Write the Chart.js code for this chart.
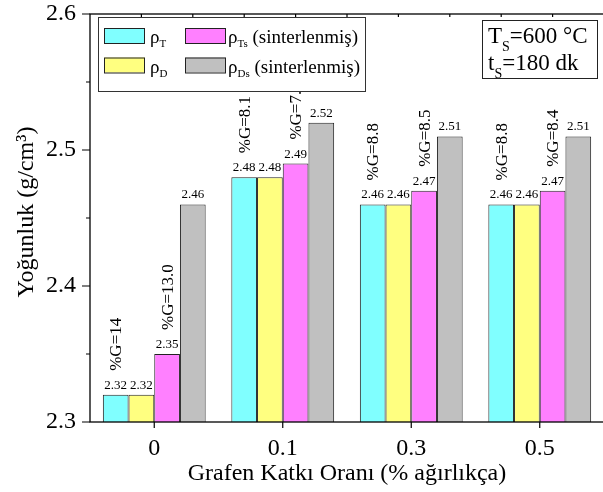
<!DOCTYPE html>
<html><head><meta charset="utf-8">
<script src="https://cdn.jsdelivr.net/npm/chart.js@4.4.1/dist/chart.umd.min.js"></script>
<style>html,body{margin:0;padding:0;overflow:hidden;background:#fff;width:603px;height:492px}canvas{display:block}</style>
</head><body><canvas id="c" width="608" height="492"></canvas>
<script>
const categories = ['0', '0.1', '0.3', '0.5'];
const rhoT  = [2.32, 2.48, 2.46, 2.46];
const rhoD  = [2.32, 2.48, 2.46, 2.46];
const rhoTs = [2.35, 2.49, 2.47, 2.47];
const rhoDs = [2.46, 2.52, 2.51, 2.51];
const porosityT  = ['14', '8.1', '8.8', '8.8'];
const porosityTs = ['13.0', '7.8', '8.5', '8.4'];
const yTicks = [2.3, 2.4, 2.5, 2.6];
const seriesMain = ['ρ', 'ρ', 'ρ', 'ρ'];
const seriesSub  = ['T', 'D', 'Ts', 'Ds'];
const seriesTail = ['', '', ' (sinterlenmiş)', ' (sinterlenmiş)'];
const colors = ['#80FFFF', '#FFFF80', '#FF80FF', '#C0C0C0'];
const xTitle = 'Grafen Katkı Oranı (% ağırlıkça)';
const yTitle = 'Yoğunluk (g/cm³)';

const SERIF = "'Liberation Serif', 'Times New Roman', serif";
Chart.defaults.font.family = SERIF;
Chart.defaults.color = '#000';

const seriesData = [rhoT, rhoD, rhoTs, rhoDs];
const datasets = seriesData.map((d, i) => ({
  label: seriesMain[i] + seriesSub[i] + seriesTail[i],
  data: d,
  backgroundColor: colors[i],
  borderColor: '#222',
  borderWidth: 1,
  borderSkipped: false,
  categoryPercentage: 0.8,
  barPercentage: 1.0
}));

const decor = {
  id: 'decor',
  afterDatasetsDraw(chart) {
    const ctx = chart.ctx;
    ctx.save();
    ctx.fillStyle = '#000';
    ctx.textAlign = 'center';
    ctx.textBaseline = 'alphabetic';
    ctx.font = '13px ' + SERIF;
    chart.data.datasets.forEach((ds, i) => {
      const meta = chart.getDatasetMeta(i);
      meta.data.forEach((el, j) => {
        ctx.fillText(ds.data[j].toFixed(2), el.x, el.y - 6);
      });
    });
    const rot = [[0, porosityT], [2, porosityTs]];
    ctx.font = '17px ' + SERIF;
    rot.forEach(([di, arr]) => {
      const meta = chart.getDatasetMeta(di);
      meta.data.forEach((el, j) => {
        ctx.save();
        ctx.translate(el.x + 1, el.y - 24);
        ctx.rotate(-Math.PI / 2);
        ctx.textAlign = 'left';
        ctx.textBaseline = 'middle';
        ctx.fillText('%G=' + arr[j], 0, 0);
        ctx.restore();
      });
    });
    ctx.restore();
  },
  afterDraw(chart) {
    const ctx = chart.ctx;
    const ca = chart.chartArea;
    const xs = chart.scales.x, ys = chart.scales.y;
    ctx.save();
    ctx.strokeStyle = '#000';
    ctx.lineWidth = 1.3;
    ctx.strokeRect(ca.left, ca.top, ca.right - ca.left, ca.bottom - ca.top);
    ctx.lineWidth = 1.2;
    ctx.beginPath();
    yTicks.forEach((v, k) => {
      const y = ys.getPixelForValue(v);
      ctx.moveTo(ca.left - 8, y); ctx.lineTo(ca.left, y);
      if (k < yTicks.length - 1) {
        const ym = ys.getPixelForValue((v + yTicks[k + 1]) / 2);
        ctx.moveTo(ca.left - 4, ym); ctx.lineTo(ca.left, ym);
      }
    });
    categories.forEach((c, j) => {
      const x = xs.getPixelForValue(j);
      ctx.moveTo(x, ca.bottom); ctx.lineTo(x, ca.bottom + 6);
    });
    for (let k = 1; k < 10; k++) {
      const x = ca.left + k * (ca.right - ca.left) / 10;
      ctx.moveTo(x, ca.top); ctx.lineTo(x, ca.top + 3);
    }
    ctx.stroke();

    ctx.save();
    ctx.translate(27, 212);
    ctx.rotate(-Math.PI / 2);
    ctx.fillStyle = '#000';
    ctx.textAlign = 'center';
    ctx.textBaseline = 'middle';
    ctx.font = '24px ' + SERIF;
    ctx.fillText(yTitle, 0, 0);
    ctx.restore();

    ctx.lineWidth = 1;
    ctx.strokeStyle = '#333';
    ctx.fillStyle = '#fff';
    ctx.fillRect(98, 17, 267, 74);
    ctx.strokeRect(98.5, 17.5, 267, 74);
    const slots = [[104, 150, 28], [104, 150, 57.5], [185, 228, 28], [185, 228, 57.5]];
    slots.forEach(([sx, tx, sy], i) => {
      ctx.fillStyle = colors[i];
      ctx.fillRect(sx, sy, 41, 15);
      ctx.strokeStyle = '#222';
      ctx.strokeRect(sx + 0.5, sy + 0.5, 40, 15);
      ctx.fillStyle = '#000';
      ctx.textAlign = 'left';
      ctx.textBaseline = 'alphabetic';
      const base = sy + 15;
      ctx.font = '19px ' + SERIF;
      ctx.fillText(seriesMain[i], tx, base);
      let x = tx + ctx.measureText(seriesMain[i]).width;
      ctx.font = '11px ' + SERIF;
      ctx.fillText(seriesSub[i], x, base + 4);
      x += ctx.measureText(seriesSub[i]).width;
      ctx.font = '19px ' + SERIF;
      ctx.fillText(seriesTail[i], x, base);
    });

    ctx.fillStyle = '#fff';
    ctx.fillRect(482, 20, 115, 58);
    ctx.strokeStyle = '#222';
    ctx.strokeRect(482.5, 20.5, 115, 58);
    ctx.fillStyle = '#000';
    const lines = [['T', 'S', '=600 °C', 43], ['t', 'S', '=180 dk', 70]];
    lines.forEach(([a, s, b, base]) => {
      ctx.font = '23px ' + SERIF;
      ctx.fillText(a, 488, base);
      let x = 488 + ctx.measureText(a).width;
      ctx.font = '14px ' + SERIF;
      ctx.fillText(s, x, base + 8);
      x += ctx.measureText(s).width;
      ctx.font = '23px ' + SERIF;
      ctx.fillText(b, x, base);
    });
    ctx.restore();
  }
};

new Chart(document.getElementById('c'), {
  type: 'bar',
  data: { labels: categories, datasets },
  options: {
    responsive: false,
    animation: false,
    layout: { padding: { top: 14, left: 0, right: 4, bottom: 0 } },
    plugins: { legend: { display: false }, tooltip: { enabled: false } },
    scales: {
      x: {
        grid: { display: false, drawTicks: false },
        border: { display: false },
        ticks: { font: { size: 24 }, color: '#000', padding: 12 },
        title: { display: true, text: xTitle, font: { size: 24 }, color: '#000', padding: { top: 0, bottom: 4 } },
        afterFit(s) { s.height = 70; s.paddingLeft = 0; s.paddingRight = 0; }
      },
      y: {
        min: 2.3, max: 2.6,
        afterBuildTicks(s) { s.ticks = yTicks.map(v => ({ value: v })); },
        grid: { display: false, drawTicks: false },
        border: { display: false },
        ticks: { font: { size: 24 }, color: '#000', padding: 14, callback: v => String(v) },
        title: { display: false },
        afterFit(s) { s.width = 90; s.paddingTop = 0; s.paddingBottom = 0; }
      }
    }
  },
  plugins: [decor]
});
</script>
</body></html>
